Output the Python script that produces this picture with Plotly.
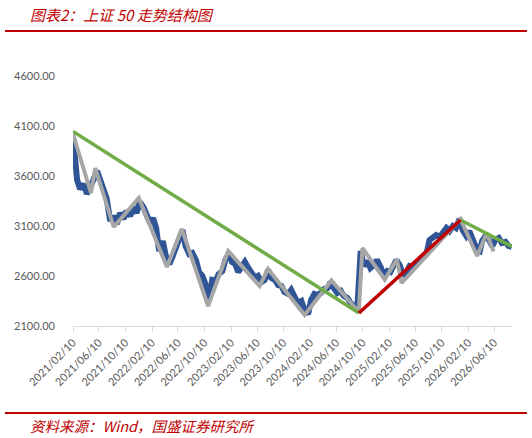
import plotly.graph_objects as go
import pandas as pd

# SSE 50 index, semi-monthly readings (blue)
index_dates = ["2021-02-10", "2021-02-20"] + [
    d.strftime("%Y-%m-%d") for d in pd.date_range("2021-03-01", "2026-08-15", freq="SMS")
] + ["2026-08-30"]
index_values = [
    3990, 3780,
    3560, 3470, 3520, 3420, 3480, 3560, 3650, 3560, 3500, 3380,
    3150, 3200, 3120, 3230, 3170, 3250, 3200, 3290, 3230, 3340,
    3290, 3200, 3130, 3180, 3080, 2850, 2950, 2800, 2720, 2790,
    2900, 2960, 3060, 2900, 2820, 2830, 2760, 2640, 2600, 2520,
    2360, 2560, 2550, 2620,
    2650, 2760, 2830, 2740, 2720, 2640, 2710, 2740, 2680, 2640,
    2580, 2600, 2540, 2560, 2660, 2580, 2560, 2510, 2500, 2440,
    2420, 2460, 2380, 2330,
    2350, 2260, 2220, 2360, 2420, 2410, 2430, 2470, 2480, 2540,
    2470, 2430, 2450, 2400, 2380, 2330, 2300, 2260, 2850, 2700,
    2750, 2680, 2710, 2760,
    2690, 2600, 2650, 2640, 2700, 2760, 2700, 2600, 2640, 2700,
    2690, 2720, 2760, 2800, 2820, 2960, 2980, 3010, 2990, 3040,
    3080, 3050, 3100, 3080,
    3170, 3060, 3000, 3050, 2990, 2900, 2820, 2950, 3000, 2970,
    2900, 2960, 2980, 2930, 2940, 2900,
    2890,
]

# zigzag structure (gray)
zig_dates = [
    "2021-02-10", "2021-05-04", "2021-05-24", "2021-08-17", "2021-12-11",
    "2022-04-20", "2022-06-28", "2022-10-27", "2023-01-28", "2023-06-22",
    "2023-07-31", "2024-01-16", "2024-05-19", "2024-09-22", "2024-10-09",
    "2025-01-20", "2025-03-17", "2025-04-08", "2026-01-05", "2026-03-23",
    "2026-05-06", "2026-06-07",
]
zig_values = [
    4020, 3430, 3680, 3090, 3380,
    2690, 3070, 2300, 2850, 2500,
    2670, 2210, 2555, 2240, 2880,
    2565, 2765, 2530, 3170, 2800,
    3030, 2845,
]

# trend lines
down1_dates = ["2021-02-10", "2024-09-23"]
down1_values = [4045, 2230]
up_dates = ["2024-09-23", "2026-01-05"]
up_values = [2230, 3160]
down2_dates = ["2026-01-05", "2026-08-30"]
down2_values = [3160, 2895]

tick_days = pd.date_range("2021-02-01", "2026-06-01", freq="4MS") + pd.Timedelta(days=9)
tick_dates = [d.strftime("%Y-%m-%d") for d in tick_days]
tick_text = [d.strftime("%Y/%m/%d") for d in tick_days]

RED = "#C00000"

fig = go.Figure()
fig.add_trace(go.Scatter(x=index_dates, y=index_values, mode="lines",
                         line=dict(color="#2F5597", width=6)))
fig.add_trace(go.Scatter(x=zig_dates, y=zig_values, mode="lines",
                         line=dict(color="#A6A6A6", width=4)))
fig.add_trace(go.Scatter(x=down1_dates, y=down1_values, mode="lines",
                         line=dict(color="#70AD47", width=3.5)))
fig.add_trace(go.Scatter(x=down2_dates, y=down2_values, mode="lines",
                         line=dict(color="#70AD47", width=3.5)))
fig.add_trace(go.Scatter(x=up_dates, y=up_values, mode="lines",
                         line=dict(color=RED, width=3.5)))

fig.update_layout(
    width=532, height=438,
    showlegend=False,
    plot_bgcolor="white", paper_bgcolor="white",
    margin=dict(t=61, b=112, l=73, r=20),
    font=dict(family="Lato, Liberation Sans, sans-serif", size=11, color="#595959"),
)

fig.update_xaxes(
    type="date",
    range=["2021-02-10", "2026-08-31"],
    tickvals=tick_dates, ticktext=tick_text,
    tickangle=-45,
    showgrid=False,
    showline=True, linecolor="#D9D9D9", linewidth=1,
    ticks="outside", ticklen=5, tickcolor="#D9D9D9",
    automargin=False,
)
fig.update_yaxes(
    range=[2100, 4750],
    tickvals=[2100, 2600, 3100, 3600, 4100, 4600],
    tickformat=".2f",
    showgrid=False, zeroline=False, showline=False,
    ticklabelstandoff=17,
    tickfont=dict(size=11),
    automargin=False,
)

# header / footer rules
fig.add_shape(type="line", xref="paper", yref="paper",
              x0=-0.155, x1=1.034, y0=1.113, y1=1.113,
              line=dict(color=RED, width=2))
fig.add_shape(type="line", xref="paper", yref="paper",
              x0=-0.155, x1=1.034, y0=-0.328, y1=-0.328,
              line=dict(color=RED, width=2))

fig.add_annotation(xref="paper", yref="paper", x=-0.102, y=1.177,
                   xanchor="left", yanchor="middle", showarrow=False,
                   text="<i>图表2：上证 50 走势结构图</i>",
                   font=dict(family="Noto Sans CJK SC", size=15, color=RED))
fig.add_annotation(xref="paper", yref="paper", x=-0.102, y=-0.374,
                   xanchor="left", yanchor="middle", showarrow=False,
                   text="<i>资料来源：Wind，国盛证券研究所</i>",
                   font=dict(family="Noto Sans CJK SC", size=14.5, color=RED))

# drop the default 8px body margin so the figure fills the window exactly
fig.write_html("out.html", config={"displayModeBar": False},
               post_script="document.body.style.margin='0';")
